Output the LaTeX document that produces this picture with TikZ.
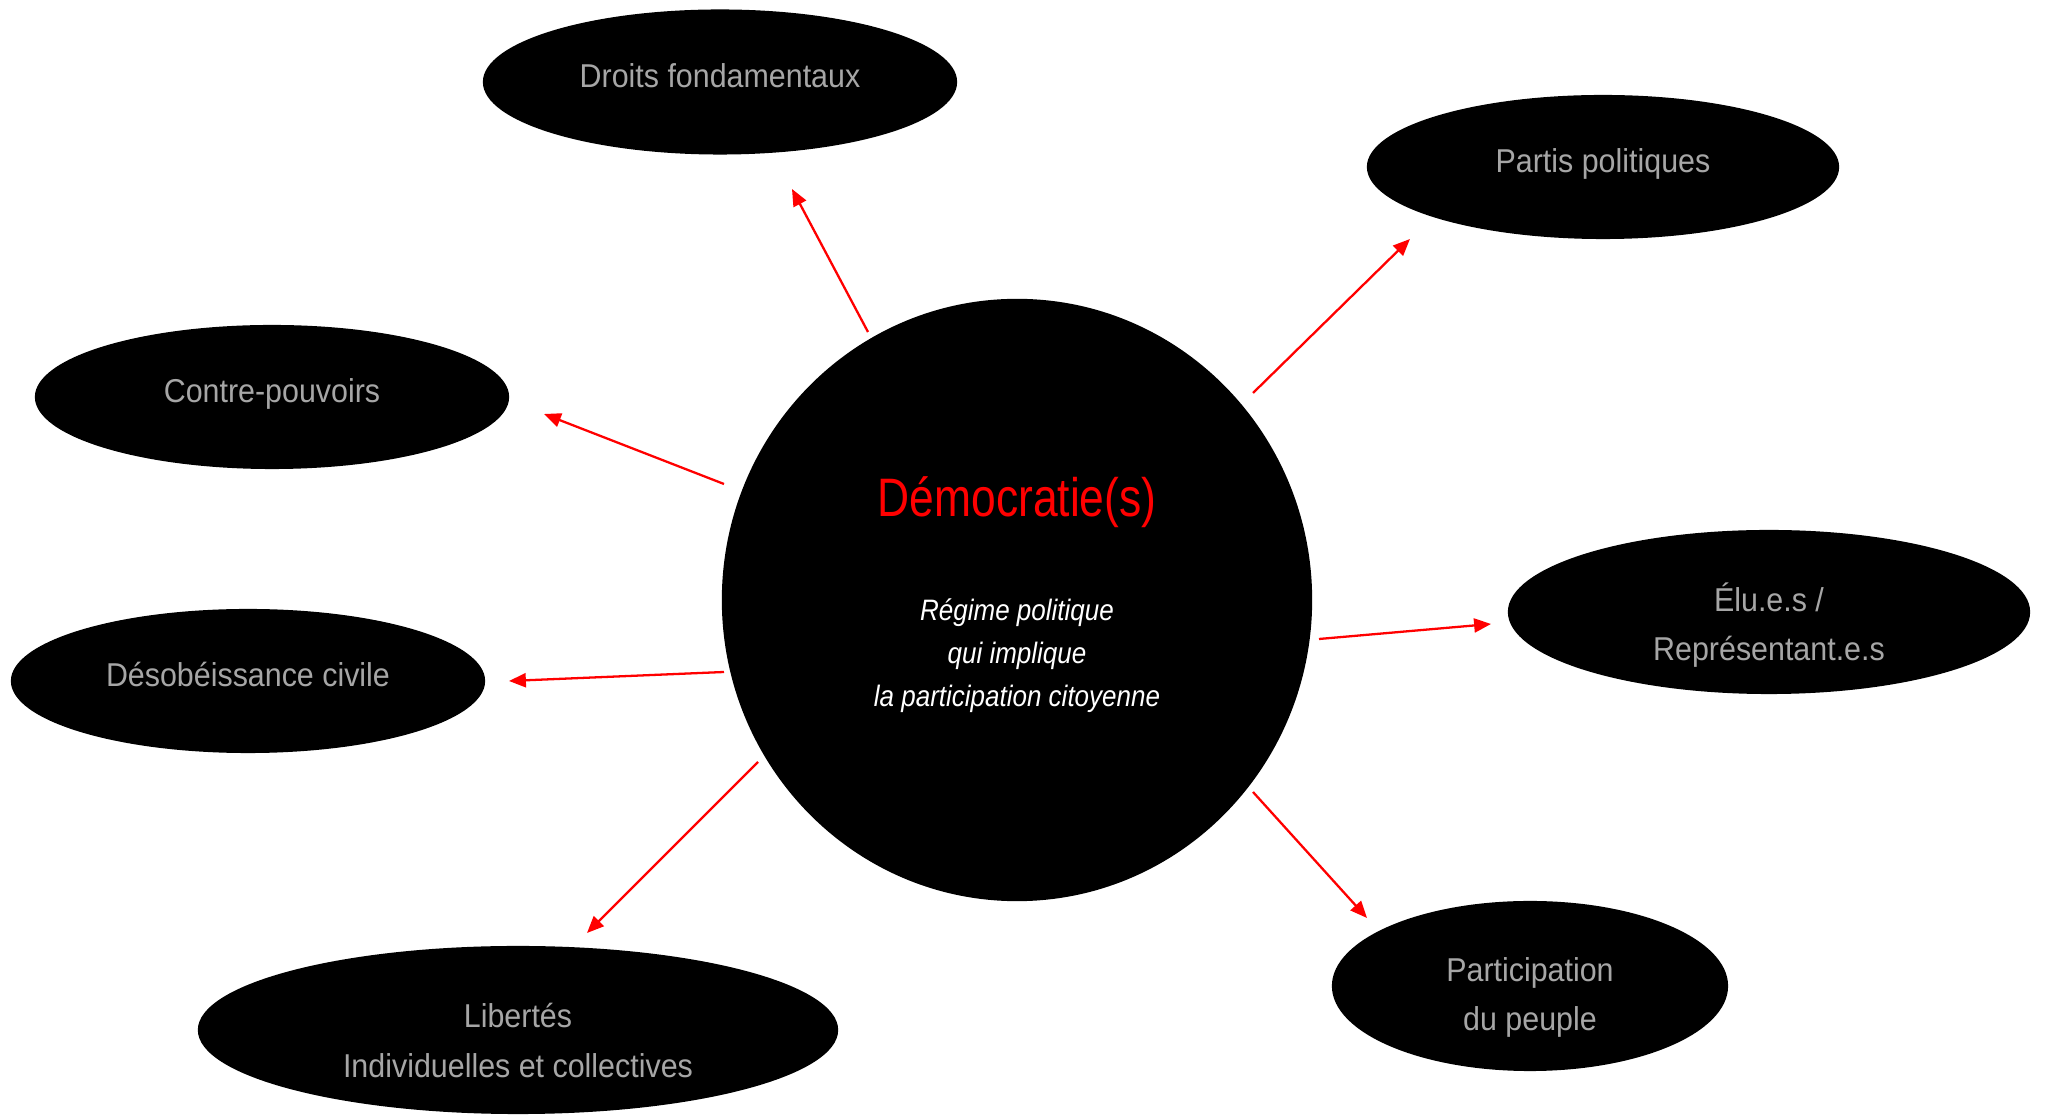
\documentclass[tikz,border=0pt]{standalone}
\usepackage{fontspec}
\setmainfont{Liberation Sans}[FakeStretch=0.92]
\newfontfamily\titlefont{Liberation Sans}[FakeStretch=0.82]
\newfontfamily\subfont{Liberation Sans}[FakeStretch=0.88]
\usetikzlibrary{arrows.meta,calc,shapes.geometric}
\definecolor{txtgray}{RGB}{166,166,166}
\definecolor{pred}{RGB}{255,0,0}
\begin{document}
\begin{tikzpicture}[x=0.01cm,y=-0.01cm,
  oval/.style={ellipse,fill=black,draw=none,inner sep=0pt,text=txtgray,align=center,
    font=\fontsize{9.4pt}{14.1pt}\selectfont},
  oneline/.style={text height=6.9pt,text depth=3.6pt},
  lab/.style={text=txtgray,align=center,inner sep=0pt,font=\fontsize{9.4pt}{14.1pt}\selectfont},
  arr/.style={draw=pred,line width=0.65pt,-{Triangle[length=4.8pt,width=4pt]}}]
\useasboundingbox[fill=white] (0,0) rectangle (2047,1116);

\node[ellipse,fill=black,inner sep=0pt,minimum width=5.90cm,minimum height=6.02cm] (demo) at (1017,600) {};
\node[text=pred,font=\titlefont\fontsize{15.4pt}{18pt}\selectfont,anchor=base] (titre) at (1017,517) {Démocratie(s)};
\node[text=white,font=\subfont\itshape\fontsize{8.4pt}{12.2pt}\selectfont,align=center] (sous) at (1017,656)
  {Régime politique\\qui implique\\la participation citoyenne};

\node[oval,oneline,minimum width=4.74cm,minimum height=1.45cm] (droits) at (720,82) {Droits fondamentaux};
\node[oval,oneline,minimum width=4.72cm,minimum height=1.44cm] (partis) at (1603,167) {Partis politiques};
\node[oval,oneline,minimum width=4.74cm,minimum height=1.44cm] (contre) at (272,397) {Contre-pouvoirs};
\node[oval,minimum width=5.22cm,minimum height=1.64cm,
  label={[lab,name=eluT,yshift=-3.7pt]center:{Élu.e.s /\\Représentant.e.s}}] (elu) at (1769,612) {};
\node[oval,oneline,minimum width=4.74cm,minimum height=1.44cm] (desob) at (248,681) {Désobéissance civile};
\node[oval,minimum width=6.40cm,minimum height=1.68cm,
  label={[lab,name=libertesT,yshift=-3.0pt]center:{Libertés\\Individuelles et collectives}}] (libertes) at (518,1030) {};
\node[oval,minimum width=3.96cm,minimum height=1.70cm,
  label={[lab,name=participT,yshift=-3.3pt]center:{Participation\\du peuple}}] (particip) at (1530,986) {};

\draw[arr] ($(demo)+(-149,-268)$) -- ($(droits)+(72,107)$);
\draw[arr] ($(demo)+(236,-207)$) -- ($(partis)+(-193,72)$);
\draw[arr] ($(demo)+(-293,-116)$) -- ($(contre)+(272,17)$);
\draw[arr] ($(demo)+(302,39)$) -- ($(elu)+(-278,12)$);
\draw[arr] ($(demo)+(-293,72)$) -- ($(desob)+(261,0)$);
\draw[arr] ($(demo)+(-259,162)$) -- ($(libertes)+(69,-97)$);
\draw[arr] ($(demo)+(236,192)$) -- ($(particip)+(-163,-68)$);
\end{tikzpicture}
\end{document}
